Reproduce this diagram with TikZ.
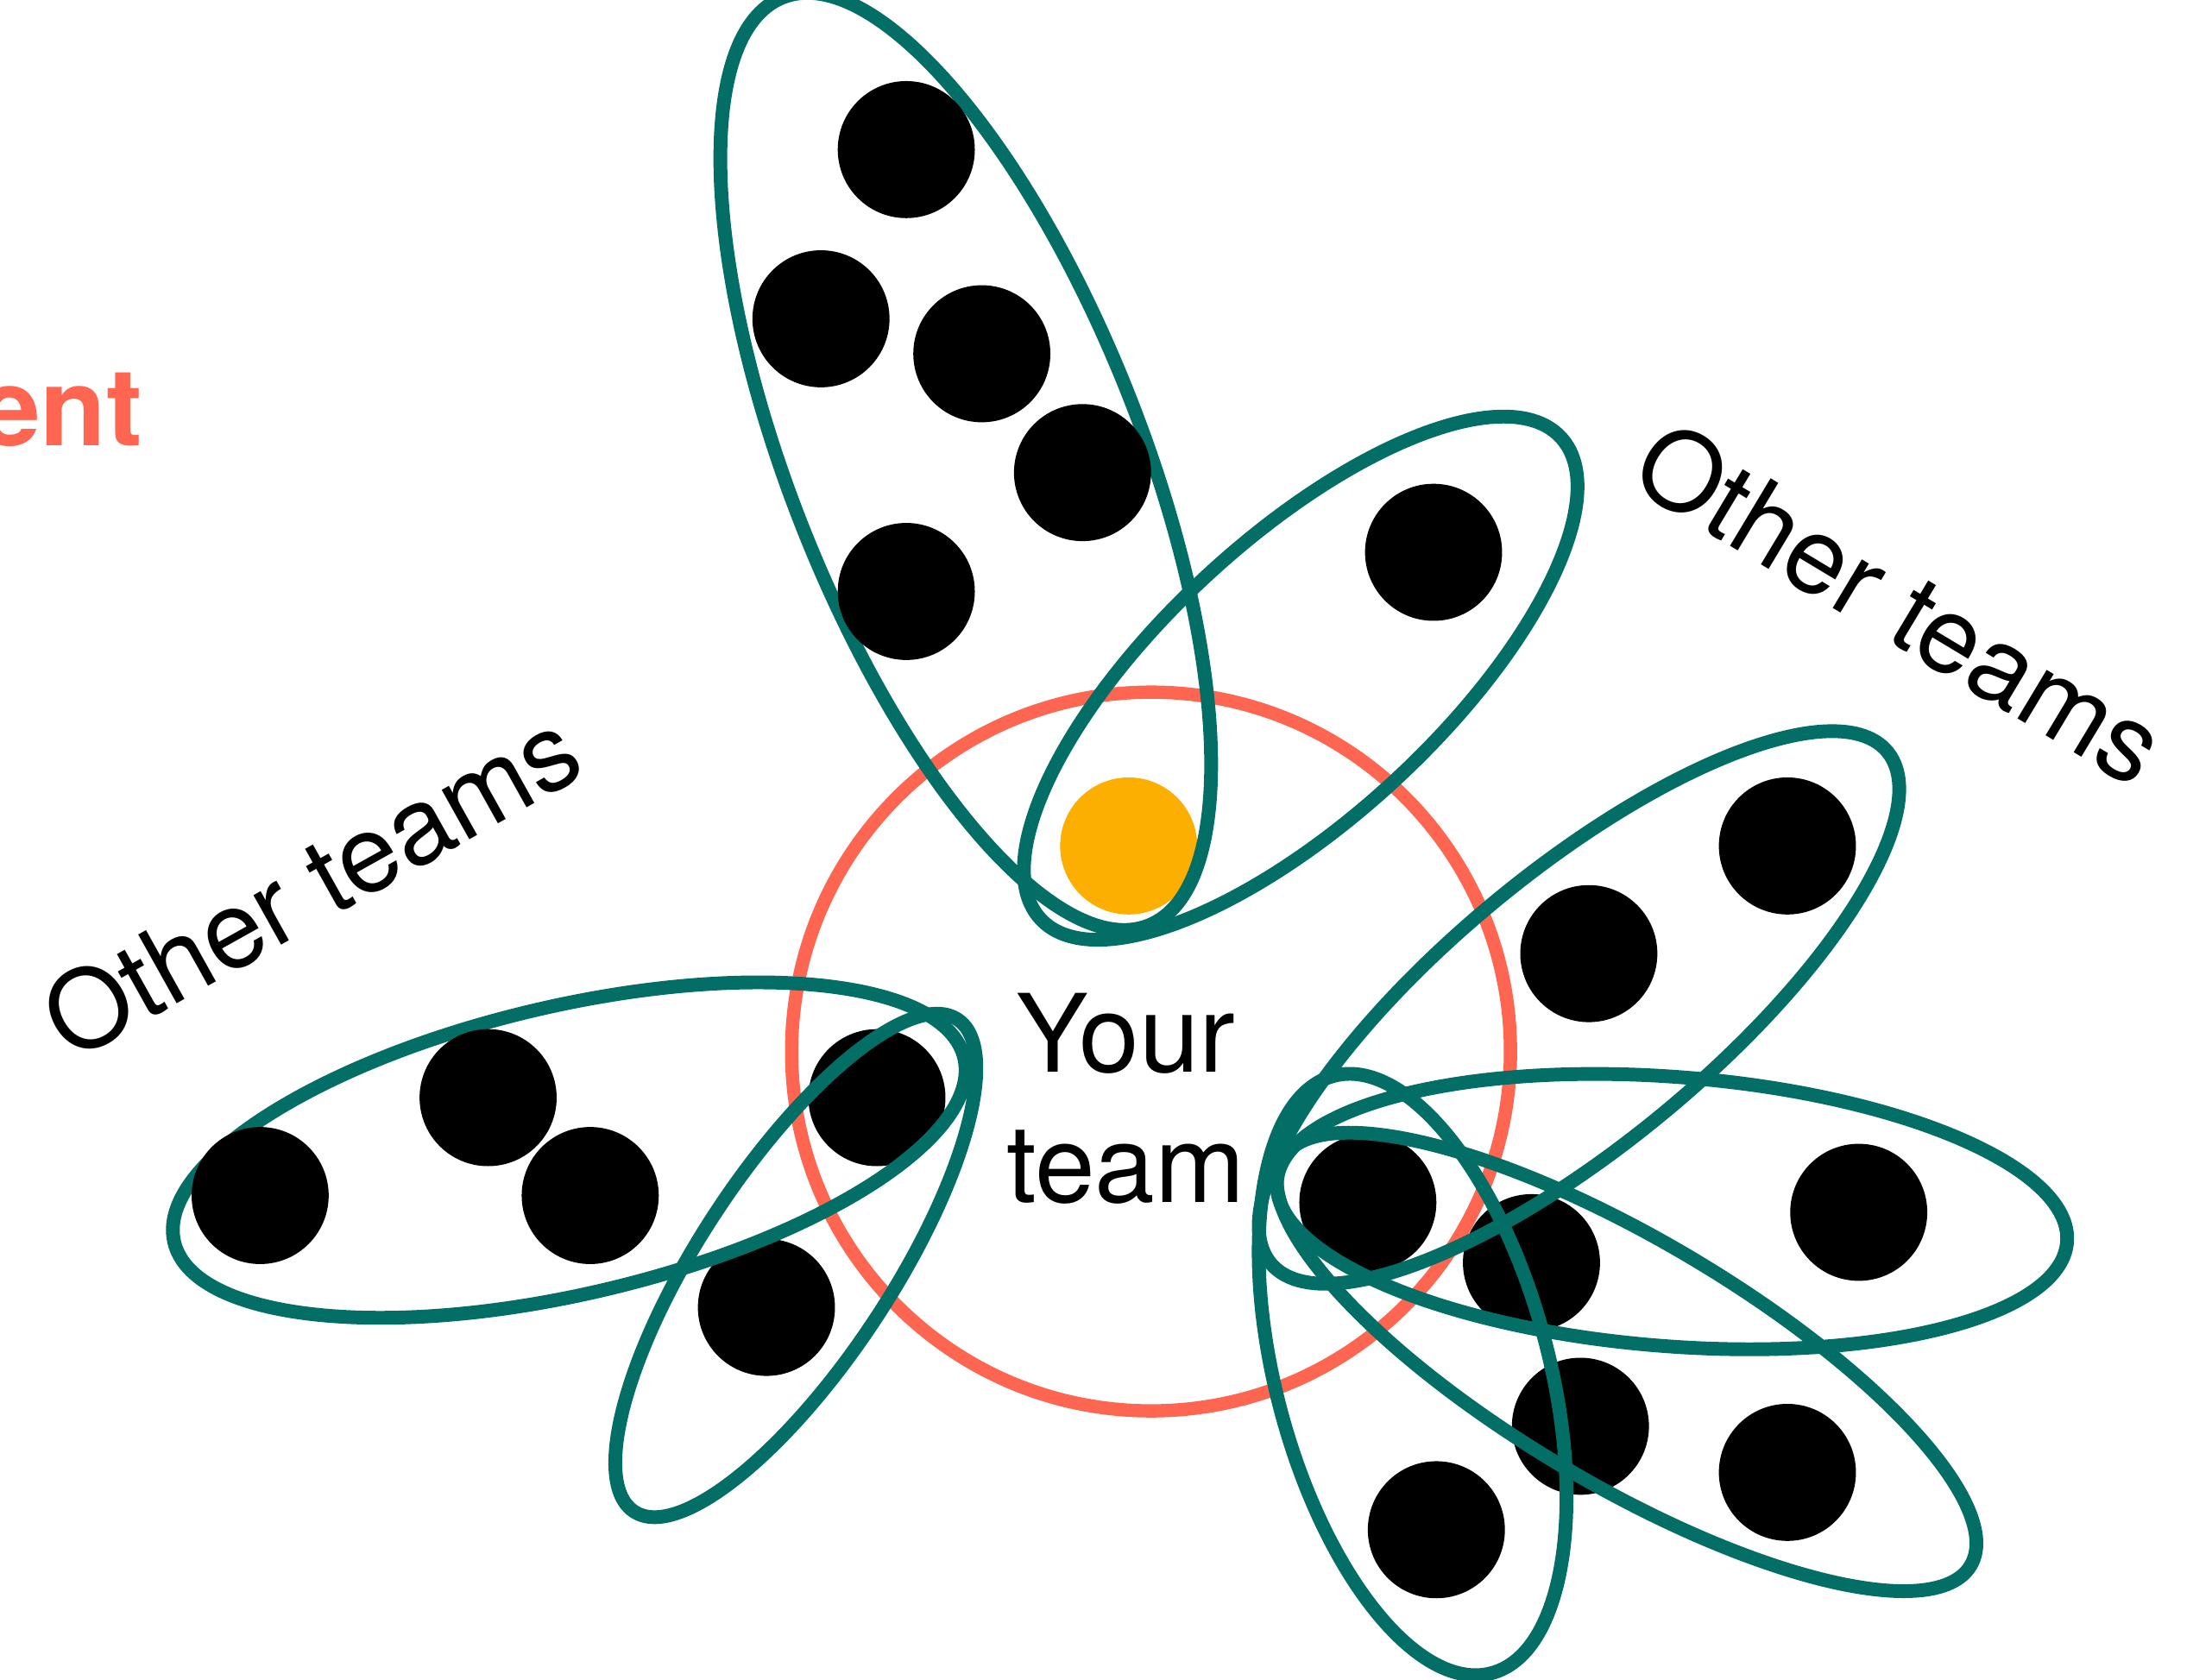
\documentclass[tikz,border=0pt]{standalone}
\usepackage{fontspec}
\setmainfont{TeX Gyre Heros}
\definecolor{teamteal}{HTML}{036E66}
\definecolor{coral}{HTML}{FF6651}
\definecolor{amber}{HTML}{FCAF00}

\tikzset{
	group/.style={draw=teamteal, line width=2.8pt},
	person/.style={fill=black},
	teamtext/.style={font=\fontsize{22}{26.5}\selectfont, inner sep=0pt},
}

\begin{document}
\begin{tikzpicture}[x=0.1mm, y=-0.1mm]
	\useasboundingbox (0, 0) rectangle (1568, 1201);
	\clip (0, 0) rectangle (1568, 1201);

	\draw[coral, line width=2.7pt] (823, 752) circle (257);
	\fill[amber] (807, 605) circle (49);

	\draw[group, shift={(690.5, 330)}, rotate=-68.5] (0, 0) ellipse [x radius=356.7, y radius=125.8];
	\foreach \x/\y in {648/107, 587/228, 702/253, 774/338, 648/423}
		\fill[person] (\x, \y) circle (49);

	\fill[person] (1025, 395) circle (49);
	\draw[group, shift={(930, 485)}, rotate=42.8] (0, 0) ellipse [x radius=253.5, y radius=99.4];

	\foreach \x/\y in {1278/605, 1136/682, 1329/867, 978/860, 1095/903, 1130/1020, 1278/1053, 1027/1094}
		\fill[person] (\x, \y) circle (49);
	\draw[group, shift={(1129, 720.5)}, rotate=39.7] (0, 0) ellipse [x radius=286.5, y radius=96.7];
	\draw[group, shift={(1195.5, 866.5)}, rotate=-4.4] (0, 0) ellipse [x radius=283.3, y radius=96.3];
	\draw[group, shift={(1163, 974)}, rotate=-30.6] (0, 0) ellipse [x radius=285.9, y radius=87.6];
	\draw[group, shift={(1010, 983)}, rotate=-75.2] (0, 0) ellipse [x radius=220.9, y radius=97.7];

	\foreach \x/\y in {627/785, 548/935}
		\fill[person] (\x, \y) circle (49);
	\draw[group, shift={(569, 905)}, rotate=56.7] (0, 0) ellipse [x radius=210.6, y radius=68.6];
	\draw[group, shift={(407, 822.5)}, rotate=13.1] (0, 0) ellipse [x radius=290, y radius=103];
	\foreach \x/\y in {186/855, 349/785, 422/855}
		\fill[person] (\x, \y) circle (49);

	\node[teamtext, align=center] (yourteam) at (805, 785.5) {Your\\team};
	\node[teamtext, rotate=29.2] (leftteams) at (222, 632) {Other teams};
	\node[teamtext, rotate=-31] (rightteams) at (1359, 431) {Other teams};
	\node[teamtext, text=coral, font=\fontsize{22}{26.5}\selectfont\bfseries, anchor=base east] (dept) at (102.5, 319) {ent};
\end{tikzpicture}
\end{document}
